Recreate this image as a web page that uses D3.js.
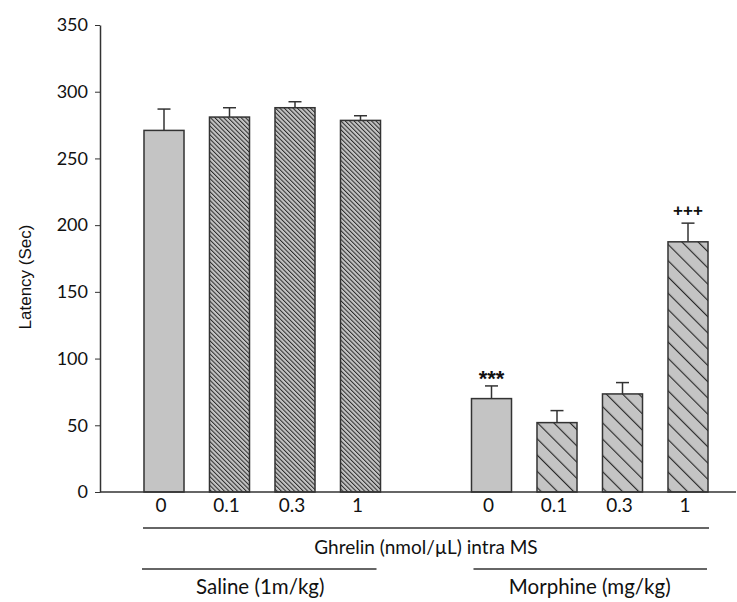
<!DOCTYPE html>
<html>
<head>
<meta charset="utf-8">
<script src="https://cdn.jsdelivr.net/npm/d3@7"></script>
<style>
  html, body { margin: 0; padding: 0; background: #fff; }
  svg { display: block; }
</style>
</head>
<body>
<svg id="chart" width="737" height="602"></svg>
<script>
// ---- data ----
const doses = ["0", "0.1", "0.3", "1"];
const groups = ["Saline (1m/kg)", "Morphine (mg/kg)"];
const salineMeans = [271, 281, 288, 278.5];
const salineErr = [16, 7, 4.5, 3.5];
const morphineMeans = [70, 52, 73.5, 187.5];
const morphineErr = [9.5, 9, 8.5, 14];
const morphineMarks = ["***", "", "", "+++"];
const yTicks = [0, 50, 100, 150, 200, 250, 300, 350];
const xTitle = "Ghrelin (nmol/\u00b5L) intra MS";
const yTitle = "Latency (Sec)";

// ---- setup ----
const svg = d3.select("#chart");
const defs = svg.append("defs");

function hatch(id, spacing, sw) {
  const p = defs.append("pattern")
    .attr("id", id)
    .attr("patternUnits", "userSpaceOnUse")
    .attr("width", spacing).attr("height", spacing)
    .attr("patternTransform", "rotate(-45)");
  p.append("rect").attr("width", spacing).attr("height", spacing).attr("fill", "#c4c4c4");
  p.append("line").attr("x1", 0.5).attr("y1", 0).attr("x2", 0.5).attr("y2", spacing)
    .attr("stroke", "#2a2a2a").attr("stroke-width", sw);
}
hatch("hatchDense", 3.1, 1);
hatch("hatchSparse", 11.5, 1.3);

const rows = [];
doses.forEach((d, i) => rows.push({ key: "S" + d, dose: d, group: 0, v: salineMeans[i], e: salineErr[i], mark: "" }));
doses.forEach((d, i) => rows.push({ key: "M" + d, dose: d, group: 1, v: morphineMeans[i], e: morphineErr[i], mark: morphineMarks[i] }));

const slots = ["S0", "S0.1", "S0.3", "S1", "gap", "M0", "M0.1", "M0.3", "M1"];
const x = d3.scaleBand().domain(slots).range([131.25, 720.75]).paddingInner(0.389).paddingOuter(0.1945);
const y = d3.scaleLinear().domain([0, 350]).range([492, 25]);

// y axis
const yAxis = svg.append("g").attr("transform", "translate(100,0)")
  .call(d3.axisLeft(y).tickValues(yTicks).tickSize(5).tickPadding(7).tickSizeOuter(0));
yAxis.select(".domain").attr("stroke", "#333").attr("stroke-width", 1.5);
yAxis.selectAll(".tick line").attr("stroke", "#333").attr("stroke-width", 1);
yAxis.selectAll(".tick text").attr("font-family", "Lato, sans-serif").attr("font-size", 18).attr("fill", "#111");

svg.append("text")
  .attr("transform", "translate(31,277) rotate(-90)")
  .attr("text-anchor", "middle")
  .attr("font-family", "Liberation Sans, Arial, sans-serif")
  .attr("font-size", 17)
  .attr("fill", "#111")
  .text(yTitle);

// bars
const bars = svg.append("g");
bars.selectAll("rect").data(rows).join("rect")
  .attr("x", d => x(d.key))
  .attr("width", x.bandwidth())
  .attr("y", d => y(d.v))
  .attr("height", d => y(0) - y(d.v))
  .attr("fill", d => d.dose === "0" ? "#c4c4c4" : (d.group === 0 ? "url(#hatchDense)" : "url(#hatchSparse)"))
  .attr("stroke", "#333")
  .attr("stroke-width", 1.5);

// error bars
const eb = svg.append("g").attr("stroke", "#333").attr("stroke-width", 1.5);
rows.forEach(d => {
  const cx = x(d.key) + x.bandwidth() / 2;
  eb.append("line").attr("x1", cx).attr("x2", cx).attr("y1", y(d.v)).attr("y2", y(d.v + d.e));
  eb.append("line").attr("x1", cx - 6.5).attr("x2", cx + 6.5).attr("y1", y(d.v + d.e)).attr("y2", y(d.v + d.e));
});

// significance marks
svg.append("g").selectAll("text").data(rows.filter(d => d.mark)).join("text")
  .attr("x", d => x(d.key) + x.bandwidth() / 2)
  .attr("y", d => y(d.v + d.e) + (d.mark === "***" ? 0 : -7))
  .attr("text-anchor", "middle")
  .attr("font-family", "Liberation Sans, Arial, sans-serif")
  .attr("font-weight", "bold")
  .attr("font-size", d => d.mark === "***" ? 22 : 17)
  .attr("fill", "#111")
  .text(d => d.mark);

// x axis
const xAxis = svg.append("g").attr("transform", "translate(0,492)")
  .call(d3.axisBottom(x).tickValues(slots.filter(s => s !== "gap")).tickSize(0).tickPadding(7)
    .tickFormat(k => rows.find(r => r.key === k).dose));
xAxis.select(".domain").remove();
xAxis.selectAll(".tick text").attr("font-family", "Lato, sans-serif").attr("font-size", 19)
  .attr("fill", "#111").attr("dx", -3);
svg.append("line").attr("x1", 100).attr("x2", 736).attr("y1", y(0)).attr("y2", y(0))
  .attr("stroke", "#333").attr("stroke-width", 1.5);

// group annotations
const ann = svg.append("g").attr("stroke", "#333").attr("stroke-width", 1.3);
ann.append("line").attr("x1", x("S0") - 1).attr("x2", x("M1") + x.bandwidth() + 1).attr("y1", 528).attr("y2", 528);
ann.append("line").attr("x1", x("S0") - 2).attr("x2", x("S1") + x.bandwidth() - 4).attr("y1", 569).attr("y2", 569);
ann.append("line").attr("x1", x("M0") + 2).attr("x2", x("M1") + x.bandwidth() - 1).attr("y1", 569).attr("y2", 569);

const txt = svg.append("g").attr("font-family", "Lato, sans-serif")
  .attr("fill", "#111").attr("text-anchor", "middle");
txt.append("text").attr("font-size", 19).attr("x", (x("S0") + x("M1") + x.bandwidth()) / 2).attr("y", 554).text(xTitle);
txt.append("text").attr("font-size", 20.5).attr("x", (x("S0") + x("S1") + x.bandwidth()) / 2 - 2).attr("y", 594).text(groups[0]);
txt.append("text").attr("font-size", 20.5).attr("x", (x("M0") + x("M1") + x.bandwidth()) / 2).attr("y", 594).text(groups[1]);
</script>
</body>
</html>
